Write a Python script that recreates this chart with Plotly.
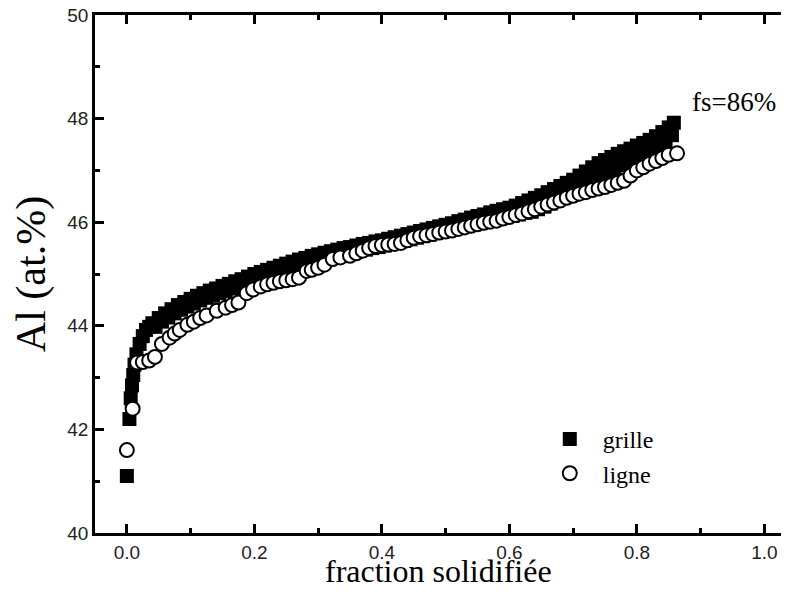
import plotly.graph_objects as go

# grille (carrés pleins)
grille_x = [0.000, 0.004, 0.006, 0.008, 0.010, 0.012, 0.015, 0.020, 0.025, 0.030, 0.035,
            0.040, 0.045, 0.050, 0.055, 0.060, 0.065, 0.070, 0.075, 0.080, 0.085,
            0.090, 0.095, 0.100, 0.105, 0.110, 0.115, 0.120, 0.125, 0.130, 0.135,
            0.140, 0.145, 0.150, 0.155, 0.160, 0.165, 0.170, 0.175, 0.180, 0.185,
            0.190, 0.195, 0.200, 0.205, 0.210, 0.215, 0.220, 0.225, 0.230, 0.235,
            0.240, 0.245, 0.250, 0.255, 0.260, 0.265, 0.270, 0.275, 0.280, 0.285,
            0.290, 0.295, 0.300, 0.305, 0.310, 0.315, 0.320, 0.325, 0.330, 0.335,
            0.340, 0.345, 0.350, 0.355, 0.360, 0.365, 0.370, 0.375, 0.380, 0.385,
            0.390, 0.395, 0.400, 0.405, 0.410, 0.415, 0.420, 0.425, 0.430, 0.435,
            0.440, 0.445, 0.450, 0.455, 0.460, 0.465, 0.470, 0.475, 0.480, 0.485,
            0.490, 0.495, 0.500, 0.505, 0.510, 0.515, 0.520, 0.525, 0.530, 0.535,
            0.540, 0.545, 0.550, 0.555, 0.560, 0.565, 0.570, 0.575, 0.580, 0.585,
            0.590, 0.595, 0.600, 0.605, 0.610, 0.615, 0.620, 0.625, 0.630, 0.635,
            0.640, 0.645, 0.650, 0.655, 0.660, 0.665, 0.670, 0.675, 0.680, 0.685,
            0.690, 0.695, 0.700, 0.705, 0.710, 0.715, 0.720, 0.725, 0.730, 0.735,
            0.740, 0.745, 0.750, 0.755, 0.760, 0.765, 0.770, 0.775, 0.780, 0.785,
            0.790, 0.795, 0.800, 0.805, 0.810, 0.815, 0.820, 0.825, 0.830, 0.835,
            0.840, 0.845, 0.850, 0.855, 0.858]
grille_y = [41.10, 42.20, 42.60, 42.85, 43.05, 43.25, 43.45, 43.65, 43.80, 43.92, 43.98,
            44.05, 43.98, 44.15, 44.08, 44.24, 44.16, 44.32, 44.24, 44.40, 44.31,
            44.46, 44.37, 44.52, 44.43, 44.58, 44.49, 44.63, 44.54, 44.68, 44.58,
            44.72, 44.63, 44.77, 44.67, 44.81, 44.72, 44.86, 44.76, 44.90, 44.81,
            44.95, 44.86, 45.00, 44.90, 45.04, 44.94, 45.08, 44.98, 45.12, 45.02,
            45.16, 45.06, 45.20, 45.10, 45.24, 45.14, 45.28, 45.18, 45.31, 45.21,
            45.35, 45.25, 45.38, 45.28, 45.41, 45.31, 45.44, 45.34, 45.47, 45.37,
            45.50, 45.39, 45.52, 45.42, 45.55, 45.45, 45.58, 45.47, 45.60, 45.50,
            45.63, 45.52, 45.65, 45.55, 45.68, 45.58, 45.71, 45.61, 45.74, 45.64,
            45.77, 45.67, 45.80, 45.70, 45.83, 45.73, 45.86, 45.76, 45.89, 45.79,
            45.92, 45.82, 45.95, 45.85, 45.98, 45.88, 46.02, 45.92, 46.05, 45.95,
            46.09, 45.99, 46.12, 46.02, 46.15, 46.05, 46.19, 46.09, 46.22, 46.12,
            46.25, 46.12, 46.28, 46.12, 46.32, 46.15, 46.37, 46.18, 46.42, 46.20,
            46.47, 46.25, 46.52, 46.30, 46.58, 46.36, 46.64, 46.42, 46.70, 46.48,
            46.76, 46.54, 46.82, 46.61, 46.90, 46.69, 46.98, 46.77, 47.06, 46.85,
            47.14, 46.92, 47.20, 46.98, 47.26, 47.04, 47.32, 47.10, 47.37, 47.15,
            47.42, 47.20, 47.48, 47.26, 47.53, 47.31, 47.59, 47.38, 47.66, 47.45,
            47.74, 47.54, 47.83, 47.68, 47.92]

# ligne (cercles vides)
ligne_x = [0.000, 0.009, 0.016, 0.025, 0.035, 0.044, 0.055, 0.067, 0.075, 0.083,
           0.095, 0.105, 0.115, 0.125, 0.141, 0.155, 0.165, 0.175, 0.188, 0.198,
           0.210, 0.220, 0.230, 0.240, 0.250, 0.260, 0.270, 0.282, 0.290, 0.300,
           0.310, 0.323, 0.335, 0.350, 0.360, 0.370, 0.380, 0.390, 0.400, 0.410,
           0.420, 0.430, 0.440, 0.450, 0.460, 0.470, 0.480, 0.490, 0.500, 0.510,
           0.520, 0.530, 0.540, 0.550, 0.560, 0.570, 0.580, 0.590, 0.600, 0.610,
           0.620, 0.630, 0.640, 0.650, 0.660, 0.670, 0.680, 0.690, 0.700, 0.710,
           0.720, 0.730, 0.740, 0.750, 0.760, 0.770, 0.780, 0.790, 0.800, 0.810,
           0.820, 0.830, 0.840, 0.850, 0.863]
ligne_y = [41.60, 42.40, 43.29, 43.30, 43.33, 43.40, 43.65, 43.77, 43.85, 43.92,
           44.02, 44.08, 44.15, 44.20, 44.29, 44.35, 44.40, 44.45, 44.63, 44.70,
           44.76, 44.80, 44.83, 44.86, 44.88, 44.90, 44.93, 45.06, 45.08, 45.12,
           45.18, 45.29, 45.32, 45.35, 45.40, 45.45, 45.50, 45.54, 45.56, 45.57,
           45.58, 45.60, 45.65, 45.70, 45.73, 45.75, 45.77, 45.80, 45.82, 45.84,
           45.87, 45.90, 45.93, 45.96, 45.99, 46.01, 46.03, 46.07, 46.10, 46.14,
           46.17, 46.21, 46.25, 46.30, 46.34, 46.38, 46.42, 46.47, 46.51, 46.55,
           46.58, 46.62, 46.65, 46.68, 46.72, 46.76, 46.80, 46.90, 47.00, 47.06,
           47.13, 47.18, 47.24, 47.30, 47.33]

fig = go.Figure()
fig.add_trace(go.Scatter(x=grille_x, y=grille_y, mode='markers', name='grille',
                         marker=dict(symbol='square', size=14, color='black',
                                     line=dict(width=0))))
fig.add_trace(go.Scatter(x=ligne_x, y=ligne_y, mode='markers', name='ligne',
                         marker=dict(symbol='circle', size=14, color='white',
                                     line=dict(width=2, color='black'))))

fig.add_annotation(x=0.883, y=48.33, text='fs=86%', showarrow=False,
                   xanchor='left', yanchor='middle',
                   font=dict(family='Liberation Serif', size=27, color='black'))

# titre de l'axe x placé à la main (standoff inactif sans automargin)
fig.add_annotation(xref='paper', yref='paper', x=0.5, y=-0.112, text='fraction solidifiée',
                   showarrow=False, xanchor='center', yanchor='bottom',
                   font=dict(family='Liberation Serif', size=32, color='black'))

axe = dict(showline=True, linewidth=2.5, linecolor='black',
           ticks='inside', ticklen=9, tickwidth=2.5, tickcolor='black',
           showgrid=False, zeroline=False, automargin=False,
           ticklabeloverflow='allow',
           tickfont=dict(family='Liberation Sans', size=19, color='#222'))

fig.update_xaxes(range=[-0.05, 1.0261], tickvals=[0, 0.2, 0.4, 0.6, 0.8, 1.0],
                 ticktext=['0.0', '0.2', '0.4', '0.6', '0.8', '1.0'], mirror='ticks',
                 minor=dict(tickvals=[0.1, 0.3, 0.5, 0.7, 0.9], ticks='inside',
                            ticklen=5, tickwidth=2.5, tickcolor='black'),
                 **axe)
# l'axe de droite est hors cadre dans l'original
fig.update_yaxes(range=[40, 50], tickvals=[40, 42, 44, 46, 48, 50], mirror=False,
                 minor=dict(tickvals=[41, 43, 45, 47, 49], ticks='inside',
                            ticklen=5, tickwidth=2.5, tickcolor='black'),
                 title=dict(text='Al (at.%)',
                            font=dict(family='Liberation Serif', size=42, color='black')),
                 **axe)

# la page ajoute une marge de 8 px autour du graphique : on la compense ici
fig.update_layout(
    width=773, height=583,
    margin=dict(l=87, r=0, t=7, b=58),
    plot_bgcolor='white', paper_bgcolor='white',
    showlegend=True,
    legend=dict(x=0.644, y=0.224, xanchor='left', yanchor='top',
                bgcolor='rgba(0,0,0,0)', itemwidth=56, tracegroupgap=0,
                font=dict(family='Liberation Serif', size=24, color='black'))
)

fig.write_html("out.html")
